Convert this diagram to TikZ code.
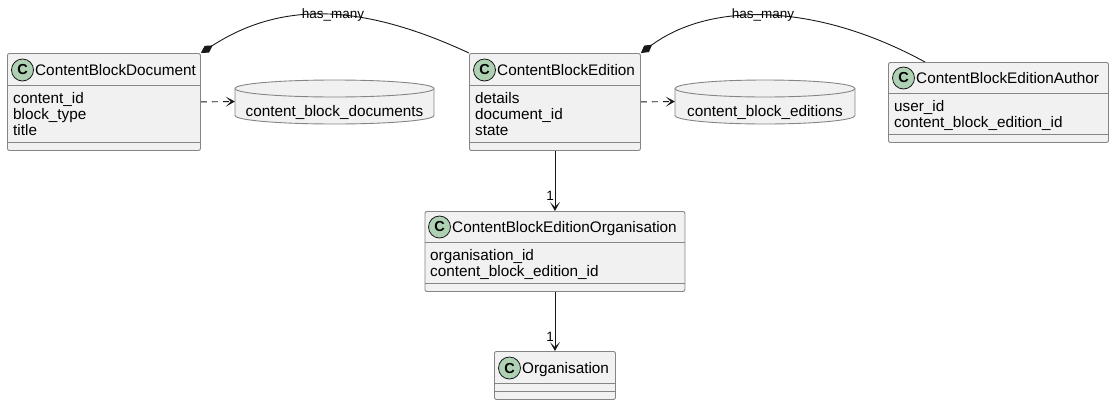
\documentclass[tikz,border=0pt]{standalone}
\usepackage{fontspec}
\setmainfont{Liberation Sans}
\usetikzlibrary{arrows.meta}
\definecolor{boxfill}{HTML}{F1F1F1}
\definecolor{boxline}{HTML}{858585}
\definecolor{circfill}{HTML}{ADD1B2}
\definecolor{lnk}{HTML}{181818}
\begin{document}
\begin{tikzpicture}[x=1pt,y=-1pt,
  cls/.style={draw=boxline, fill=boxfill, rounded corners=2pt, line width=0.9pt, inner sep=0pt, anchor=north west},
  sepline/.style={draw=boxline, line width=0.9pt},
  circ/.style={circle, draw=lnk, fill=circfill, line width=0.8pt, minimum size=22pt, inner sep=0pt, font=\fontsize{14.5}{14.5}\selectfont\bfseries},
  ttl/.style={anchor=base west, inner sep=0pt, font=\fontsize{15.3}{18}\selectfont},
  attr/.style={anchor=base west, inner sep=0pt, font=\fontsize{15.3}{18}\selectfont},
  cylbody/.style={draw=boxline, fill=boxfill, line width=0.9pt},
  anchorbox/.style={inner sep=0pt, draw=none},
  lbl/.style={inner sep=0pt, font=\fontsize{13.5}{15}\selectfont},
  dep/.style={draw=lnk, line width=0.9pt, dash pattern=on 6pt off 5pt, -{Stealth[length=9pt,width=10pt,inset=5pt]}},
  assoc/.style={draw=lnk, line width=0.9pt, -{Stealth[length=9pt,width=10pt,inset=5pt]}},
  comp/.style={draw=lnk, line width=0.9pt, {Diamond[length=14pt,width=8pt,fill=lnk]}-}
]
\useasboundingbox (0,0) rectangle (1113,405);

% ContentBlockDocument
\node[cls, minimum width=193pt, minimum height=97pt] (doc) at (7,53) {};
\draw[sepline] (7,85) -- (200,85);
\draw[sepline] (7,142) -- (200,142);
\node[circ] (docc) at (22.5,70) {C};
\node[ttl] (doct) at (35,75.5) {ContentBlockDocument};
\node[attr] (doca1) at (13,103) {content\_id};
\node[attr] (doca2) at (13,119) {block\_type};
\node[attr] (doca3) at (13,135) {title};

% cylinder content_block_documents
\draw[cylbody] (235,88.5) -- (235,115.5) arc[start angle=180,end angle=360,x radius=99.5pt,y radius=8.5pt] -- (434,88.5) arc[start angle=0,end angle=180,x radius=99.5pt,y radius=8.5pt] -- cycle;
\draw[sepline] (235,88.5) arc[start angle=180,end angle=360,x radius=99.5pt,y radius=8.5pt];
\node[anchorbox, minimum width=199pt, minimum height=40pt] (tbldoc) at (334.5,101.5) {};
\node[attr, anchor=base] (tbldoct) at (334.5,116.5) {content\_block\_documents};

% ContentBlockEdition
\node[cls, minimum width=171pt, minimum height=97pt] (ed) at (469,53) {};
\draw[sepline] (469,85) -- (640,85);
\draw[sepline] (469,142) -- (640,142);
\node[circ] (edc) at (484.5,70) {C};
\node[ttl] (edt) at (497,75.5) {ContentBlockEdition};
\node[attr] (eda1) at (475,103) {details};
\node[attr] (eda2) at (475,119) {document\_id};
\node[attr] (eda3) at (475,135) {state};

% cylinder content_block_editions
\draw[cylbody] (675,88.5) -- (675,115.5) arc[start angle=180,end angle=360,x radius=90pt,y radius=8.5pt] -- (855,88.5) arc[start angle=0,end angle=180,x radius=90pt,y radius=8.5pt] -- cycle;
\draw[sepline] (675,88.5) arc[start angle=180,end angle=360,x radius=90pt,y radius=8.5pt];
\node[anchorbox, minimum width=180pt, minimum height=40pt] (tbled) at (765,101.5) {};
\node[attr, anchor=base] (tbledt) at (765,116.5) {content\_block\_editions};

% ContentBlockEditionAuthor
\node[cls, minimum width=220pt, minimum height=80pt] (aut) at (888,62) {};
\draw[sepline] (888,93) -- (1108,93);
\draw[sepline] (888,134) -- (1108,134);
\node[circ] (autc) at (903.5,78) {C};
\node[ttl] (autt) at (916,83.5) {ContentBlockEditionAuthor};
\node[attr] (auta1) at (894,111) {user\_id};
\node[attr] (auta2) at (894,127.5) {content\_block\_edition\_id};
\coordinate (auttop) at (925,62);

% ContentBlockEditionOrganisation
\node[cls, minimum width=260pt, minimum height=80pt] (ceo) at (424.5,211) {};
\draw[sepline] (424.5,242) -- (684.5,242);
\draw[sepline] (424.5,283) -- (684.5,283);
\node[circ] (ceoc) at (439.5,227) {C};
\node[ttl] (ceot) at (452,232.5) {ContentBlockEditionOrganisation};
\node[attr] (ceoa1) at (430,260) {organisation\_id};
\node[attr] (ceoa2) at (430,276.5) {content\_block\_edition\_id};

% Organisation
\node[cls, minimum width=121pt, minimum height=48pt] (org) at (494,351) {};
\draw[sepline] (494,383) -- (615,383);
\draw[sepline] (494,391) -- (615,391);
\node[circ] (orgc) at (509.5,368) {C};
\node[ttl] (orgt) at (522,373.5) {Organisation};

% connectors
\draw[dep] (doc.east) -- (tbldoc.west);
\draw[dep] (ed.east) -- (tbled.west);
\draw[comp] (doc.north east) .. controls (280,2) and (359,2) .. (ed.north west);
\node[lbl] (hm1) at (333,15) {has\_many};
\draw[comp] (ed.north east) .. controls (710,2) and (815,2) .. (auttop);
\node[lbl] (hm2) at (763,15) {has\_many};
\draw[assoc] (ed.south) -- (ceo.north);
\node[lbl, anchor=east] (one1) at (554,196) {1};
\draw[assoc] (ceo.south) -- (org.north);
\node[lbl, anchor=east] (one2) at (554,337) {1};
\end{tikzpicture}
\end{document}
